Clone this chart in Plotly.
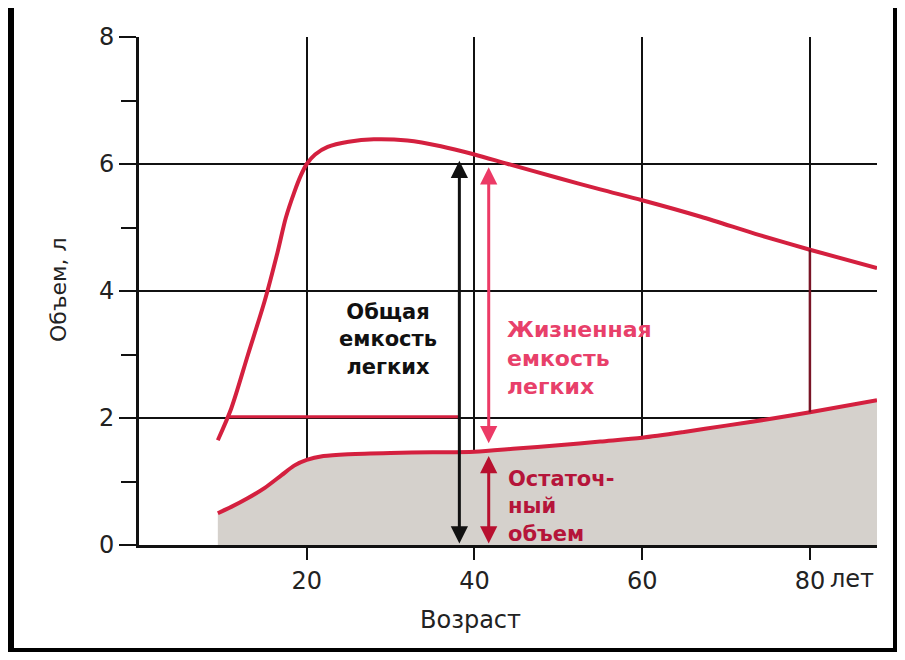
import plotly.graph_objects as go

# ---- data ----
age_tlc = [9.4, 11.0, 13.0, 15.0, 16.5, 17.5, 18.5, 19.3, 20.0, 21.0, 22.5, 25.0, 28.0,
           32.0, 36.0, 40.0, 44.0, 50.0, 55.0, 60.0, 67.0, 74.0, 80.0, 88.0]
tlc = [1.65, 2.15, 3.0, 3.85, 4.6, 5.15, 5.55, 5.82, 6.0, 6.15, 6.27, 6.35, 6.39,
       6.37, 6.28, 6.15, 6.0, 5.78, 5.6, 5.43, 5.17, 4.88, 4.65, 4.36]

age_rv = [9.4, 11.0, 13.0, 15.0, 17.0, 18.5, 20.0, 22.0, 25.0, 30.0, 35.0, 40.0,
          45.0, 50.0, 55.0, 60.0, 65.0, 70.0, 75.0, 80.0, 88.0]
rv = [0.5, 0.6, 0.74, 0.9, 1.1, 1.25, 1.34, 1.4, 1.43, 1.45, 1.46, 1.47,
      1.52, 1.57, 1.63, 1.69, 1.78, 1.88, 1.98, 2.09, 2.28]

ref_line_x = [10.8, 38.2]
ref_line_y = [2.02, 2.02]

tint_x = [80, 80]
tint_y = [2.09, 4.65]

x_ticks = [20, 40, 60, 80]
x_ticktext = ["20", "40", "60", "80"]
y_ticks = [0, 2, 4, 6, 8]
y_minor = [1, 3, 5, 7]

arrow_x = [38.2, 41.7, 41.7]
arrow_top = [6.05, 5.95, 1.40]
arrow_bottom = [0.0, 1.58, 0.0]
arrow_colors = ["#111111", "#ec3a66", "#b8102f"]

RED = "#d4203f"
FONT = "DejaVu Sans"

# figure geometry (page body adds an 8px offset)
W, H = 889, 644
L, R, T, B = 131, 20, 29, 107
PW, PH = W - L - R, H - T - B


def px_x(p):
    return (p - L) / PW


def px_y(p):
    return (H - B - p) / PH


fig = go.Figure()

fig.add_trace(go.Scatter(
    x=age_rv, y=rv, mode="lines", fill="tozeroy", fillcolor="#d5d1cc",
    line=dict(color=RED, width=4, shape="spline", smoothing=0.8),
    hoverinfo="skip", showlegend=False))

fig.add_trace(go.Scatter(
    x=age_tlc, y=tlc, mode="lines",
    line=dict(color=RED, width=4, shape="spline", smoothing=0.8),
    hoverinfo="skip", showlegend=False))

fig.add_trace(go.Scatter(
    x=ref_line_x, y=ref_line_y, mode="lines",
    line=dict(color=RED, width=3), hoverinfo="skip", showlegend=False))

fig.add_trace(go.Scatter(
    x=tint_x, y=tint_y, mode="lines",
    line=dict(color="#7a1526", width=2.5), hoverinfo="skip", showlegend=False))

for xa, yt, yb, col in zip(arrow_x, arrow_top, arrow_bottom, arrow_colors):
    fig.add_annotation(
        x=xa, y=yt, ax=xa, ay=yb, xref="x", yref="y", axref="x", ayref="y",
        text="", showarrow=True, arrowhead=2, arrowside="end+start",
        arrowsize=1.15, arrowwidth=3, arrowcolor=col)

fig.add_annotation(x=29.7, y=3.23, xref="x", yref="y", showarrow=False,
                   text="Общая<br>емкость<br>легких", align="center",
                   font=dict(family=FONT, size=21, color="#111111", weight="bold"))
fig.add_annotation(x=43.6, y=2.95, xref="x", yref="y", showarrow=False,
                   xanchor="left", align="left",
                   text="Жизненная<br>емкость<br>легких",
                   font=dict(family=FONT, size=22, color="#e8406a", weight="bold"))
fig.add_annotation(x=43.8, y=0.6, xref="x", yref="y", showarrow=False,
                   xanchor="left", align="left",
                   text="Остаточ-<br>ный<br>объем",
                   font=dict(family=FONT, size=21, color="#b5153a", weight="bold"))

fig.add_annotation(x=80, y=0, xref="x", yref="y", showarrow=False,
                   xanchor="left", yanchor="middle", xshift=18, yshift=-34,
                   text="лет", font=dict(family=FONT, size=24, color="#222"))

fig.add_annotation(x=px_x(462), y=px_y(612), xref="paper", yref="paper", showarrow=False,
                   text="Возраст", xanchor="center", yanchor="middle",
                   font=dict(family=FONT, size=24, color="#222"))
fig.add_annotation(x=px_x(50), y=px_y(282), xref="paper", yref="paper", showarrow=False,
                   text="Объем, л", textangle=-90, xanchor="center", yanchor="middle",
                   font=dict(family=FONT, size=22, color="#222"))

# white sheet on a black page (dark scan border)
fig.add_shape(type="rect", xref="paper", yref="paper",
              x0=px_x(6), x1=px_x(885), y0=px_y(640), y1=px_y(-5),
              fillcolor="white", line=dict(width=0), layer="below")

fig.update_layout(
    width=W, height=H,
    margin=dict(l=L, r=R, t=T, b=B),
    paper_bgcolor="black", plot_bgcolor="white",
    showlegend=False,
    xaxis=dict(range=[0, 88], tickvals=x_ticks, ticktext=x_ticktext,
               showgrid=True, gridcolor="#111", gridwidth=2,
               showline=True, linecolor="#111", linewidth=3,
               ticks="outside", ticklen=12, tickwidth=2, tickcolor="#111",
               zeroline=False, tickfont=dict(family=FONT, size=24, color="#222")),
    yaxis=dict(range=[0, 8], tickvals=y_ticks,
               showgrid=True, gridcolor="#111", gridwidth=2,
               showline=True, linecolor="#111", linewidth=3,
               ticks="outside", ticklen=17, tickwidth=2, tickcolor="#111",
               zeroline=False, tickfont=dict(family=FONT, size=24, color="#222"),
               minor=dict(tickvals=y_minor, ticks="outside", ticklen=15,
                          tickwidth=2, tickcolor="#111", showgrid=False)),
)

fig.write_html("out.html")
